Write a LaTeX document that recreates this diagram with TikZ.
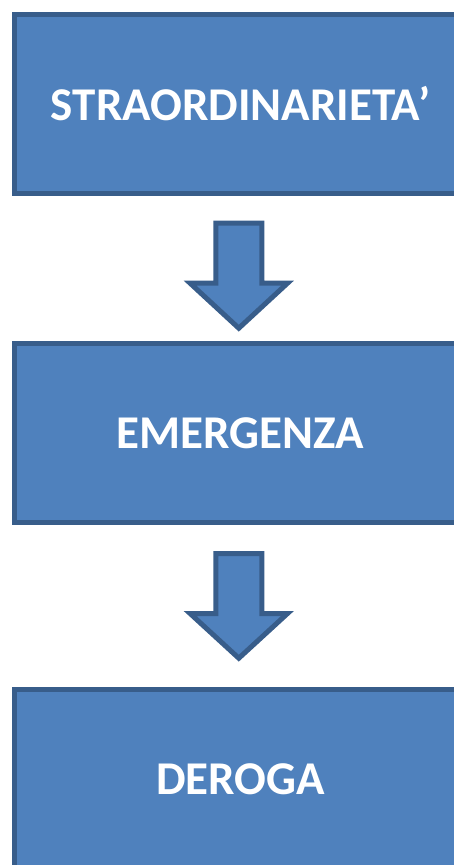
\documentclass[tikz,border=0pt]{standalone}
\usepackage{fontspec}
\setmainfont{Carlito}
\usepackage{tikz}
\usetikzlibrary{positioning}
\usetikzlibrary{calc}
\definecolor{boxfill}{HTML}{4F81BD}
\definecolor{boxline}{HTML}{385D8A}
\tikzstyle{stepbox}=[draw=boxline,fill=boxfill,line width=5pt,
                     minimum width=453pt,minimum height=179.5pt,inner sep=0pt,
                     text=white,font=\fontsize{47}{56}\selectfont\bfseries]
\tikzstyle{blockarrow}=[draw=boxline,fill=boxfill,line width=5pt,line join=miter]

\begin{document}
\begin{tikzpicture}[x=1pt,y=-1pt]

% Frame
\useasboundingbox (0,0) rectangle (454,865);
\clip (0,0) rectangle (454,865);

% Boxes
\node[stepbox] (straord) at (240.5,103.75) {STRAORDINARIETA’};
\node[stepbox] (emerg) at (240.5,432.75) {EMERGENZA};
\node[stepbox] (deroga) at (240.5,778.75) {DEROGA};

% Block arrows
\draw[blockarrow] (215.8,223.2) -- (261.8,223.2) -- (261.8,283.2) -- (287.5,283.2)
  -- (238.8,328.2) -- (190.1,283.2) -- (215.8,283.2) -- cycle;
\draw[blockarrow] (215.8,553.5) -- (261.8,553.5) -- (261.8,613.5) -- (287.5,613.5)
  -- (238.8,658.2) -- (190.1,613.5) -- (215.8,613.5) -- cycle;

\end{tikzpicture}
\end{document}
